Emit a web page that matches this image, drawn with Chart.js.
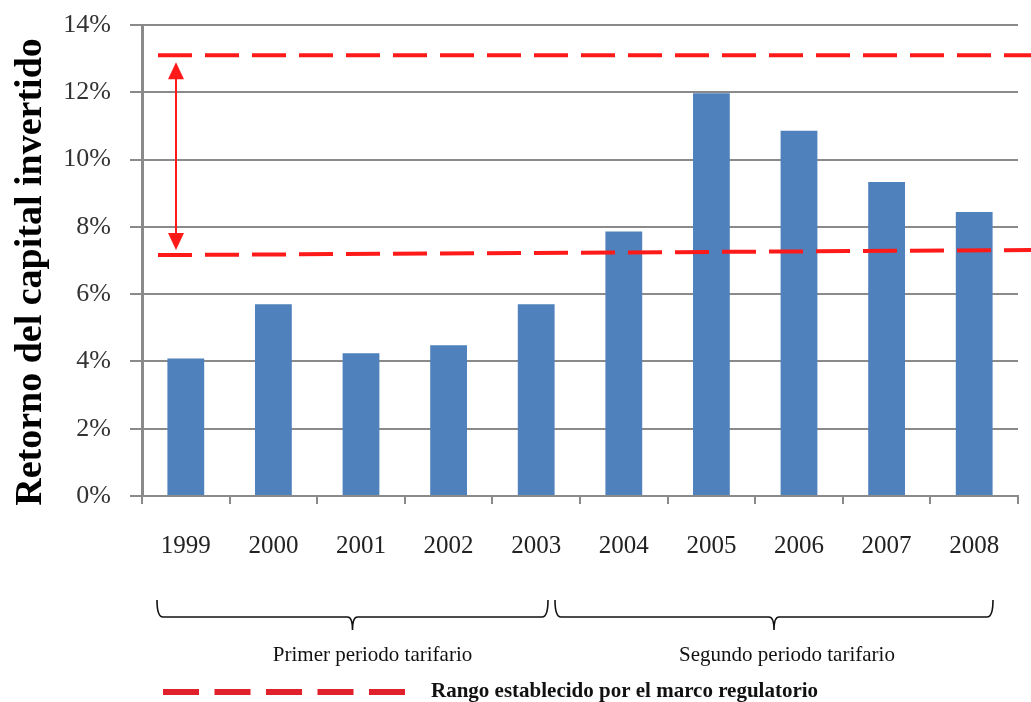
<!DOCTYPE html>
<html>
<head>
<meta charset="utf-8">
<script src="https://cdn.jsdelivr.net/npm/chart.js@4/dist/chart.umd.min.js"></script>
<style>
  html, body { margin: 0; padding: 0; background: #fff; }
  #wrap { width: 1031px; height: 702px; position: relative; }
</style>
</head>
<body>
<div id="wrap"><canvas id="c" width="1031" height="702"></canvas></div>
<script>
// ---- data ----
const years = ['1999','2000','2001','2002','2003','2004','2005','2006','2007','2008'];
const returns = [4.09, 5.70, 4.24, 4.48, 5.70, 7.86, 11.97, 10.86, 9.33, 8.44];
const yTicks = [0, 2, 4, 6, 8, 10, 12, 14];
const rangeHigh = [13.1, 13.1];   // upper regulatory bound (start, end)
const rangeLow = [7.16, 7.31];    // lower regulatory bound (start, end)
const periodLabels = ['Primer periodo tarifario', 'Segundo periodo tarifario'];
const periodSpans = [[0, 4], [5, 9]]; // category index ranges
const yTitle = 'Retorno del capital invertido';
const legendText = 'Rango establecido por el marco regulatorio';

const SERIF = '"Liberation Serif", "DejaVu Serif", serif';
const RED = '#ff1a1a';

const overlay = {
  id: 'overlay',
  afterDraw(chart) {
    const ctx = chart.ctx;
    const x = chart.scales.x, y = chart.scales.y;
    const ca = chart.chartArea;
    ctx.save();
    // y title
    ctx.save();
    ctx.translate(31, 272);
    ctx.rotate(-Math.PI / 2);
    ctx.fillStyle = '#000';
    ctx.font = 'bold 38px ' + SERIF;
    ctx.textAlign = 'center';
    ctx.textBaseline = 'middle';
    ctx.fillText(yTitle, 0, 0);
    ctx.restore();

    // dashed range lines
    ctx.strokeStyle = RED;
    ctx.lineWidth = 4;
    ctx.setLineDash([34, 13]);
    const xs = ca.left + 16, xe = chart.width;
    [rangeHigh, rangeLow].forEach(r => {
      ctx.beginPath();
      ctx.moveTo(xs, y.getPixelForValue(r[0]));
      ctx.lineTo(xe, y.getPixelForValue(r[1]));
      ctx.stroke();
    });
    ctx.setLineDash([]);
    // double arrow
    const ax = ca.left + 34;
    const yTop = y.getPixelForValue(rangeHigh[0]) + 7;
    const yBot = y.getPixelForValue(rangeLow[0]) - 5;
    const head = 17, hw = 8;
    ctx.lineWidth = 2;
    ctx.beginPath();
    ctx.moveTo(ax, yTop + head - 2);
    ctx.lineTo(ax, yBot - head + 2);
    ctx.stroke();
    ctx.fillStyle = RED;
    ctx.beginPath();
    ctx.moveTo(ax, yTop); ctx.lineTo(ax - hw, yTop + head); ctx.lineTo(ax + hw, yTop + head); ctx.closePath();
    ctx.fill();
    ctx.beginPath();
    ctx.moveTo(ax, yBot); ctx.lineTo(ax - hw, yBot - head); ctx.lineTo(ax + hw, yBot - head); ctx.closePath();
    ctx.fill();

    // period brackets
    const step = x.getPixelForValue(1) - x.getPixelForValue(0);
    ctx.strokeStyle = '#111';
    ctx.lineWidth = 1.6;
    const bTop = 600, bMid = 617, bTip = 630;
    const insetL = [15, -25], insetR = [32, 25], textOff = [20, 13];
    periodSpans.forEach((sp, i) => {
      const l = x.getPixelForValue(sp[0]) - step / 2 + insetL[i];
      const r = x.getPixelForValue(sp[1]) + step / 2 - insetR[i];
      const m = (l + r) / 2;
      ctx.beginPath();
      ctx.moveTo(l, bTop);
      ctx.quadraticCurveTo(l, bMid, l + 6, bMid);
      ctx.lineTo(m - 5, bMid);
      ctx.quadraticCurveTo(m, bMid, m, bTip);
      ctx.quadraticCurveTo(m, bMid, m + 5, bMid);
      ctx.lineTo(r - 6, bMid);
      ctx.quadraticCurveTo(r, bMid, r, bTop);
      ctx.stroke();
      ctx.fillStyle = '#111';
      ctx.font = '21px ' + SERIF;
      ctx.textAlign = 'center';
      ctx.textBaseline = 'middle';
      ctx.fillText(periodLabels[i], m + textOff[i], 655);
    });

    // legend
    ctx.strokeStyle = '#e0202a';
    ctx.lineWidth = 6;
    ctx.setLineDash([36, 15.5]);
    ctx.beginPath();
    ctx.moveTo(163, 692);
    ctx.lineTo(405, 692);
    ctx.stroke();
    ctx.setLineDash([]);
    ctx.fillStyle = '#111';
    ctx.font = 'bold 21px ' + SERIF;
    ctx.textAlign = 'left';
    ctx.textBaseline = 'middle';
    ctx.fillText(legendText, 431, 692);
    ctx.restore();
  }
};

new Chart(document.getElementById('c'), {
  type: 'bar',
  data: {
    labels: years,
    datasets: [{
      data: returns,
      backgroundColor: '#4f81bd',
      borderWidth: 0,
      barPercentage: 0.42,
      categoryPercentage: 1.0
    }]
  },
  options: {
    responsive: false,
    animation: false,
    events: [],
    layout: { padding: { left: 0, right: 13, top: 25, bottom: 0 } },
    plugins: { legend: { display: false }, tooltip: { enabled: false }, title: { display: false } },
    scales: {
      x: {
        offset: true,
        grid: { display: true, drawOnChartArea: false, drawTicks: true, tickLength: 8, color: '#8a8a8a', lineWidth: 2, offset: true },
        border: { display: true, color: '#8a8a8a', width: 2 },
        ticks: { color: '#222', font: { family: SERIF, size: 25 }, padding: 27, maxRotation: 0 },
        afterFit(s) { s.height = 702 - 496; s.paddingLeft = 0; s.paddingRight = 0; }
      },
      y: {
        min: 0, max: 14,
        afterBuildTicks(s) { s.ticks = yTicks.map(v => ({ value: v })); },
        grid: { color: '#8a8a8a', lineWidth: 2, tickLength: 12, drawTicks: true },
        border: { display: true, color: '#8a8a8a', width: 3 },
        ticks: { color: '#333', font: { family: SERIF, size: 26 }, padding: 19, callback: v => v + '%' },
        afterFit(s) { s.width = 142; s.paddingTop = 0; s.paddingBottom = 0; }
      }
    }
  },
  plugins: [overlay]
});
</script>
</body>
</html>
